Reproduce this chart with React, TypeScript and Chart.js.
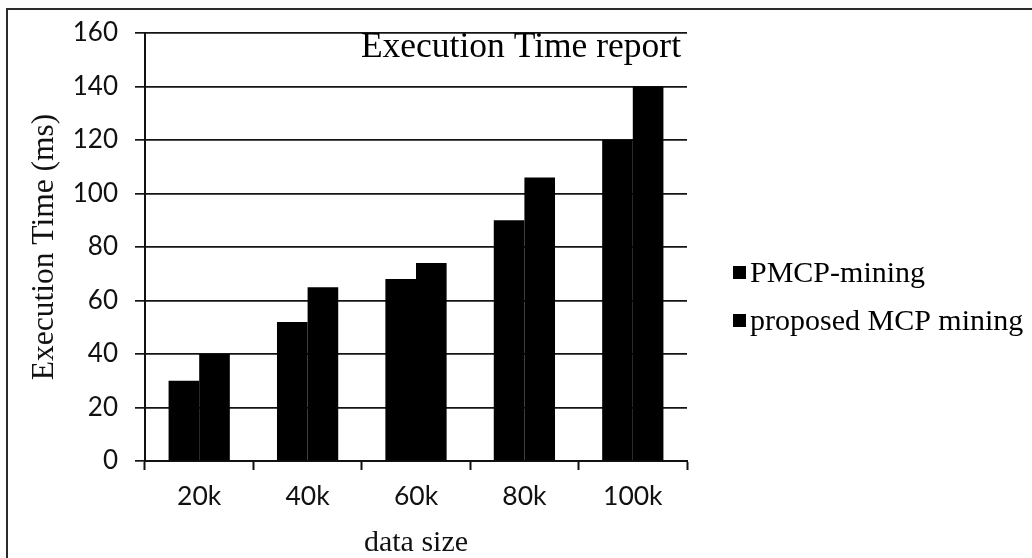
import React, { useEffect, useRef } from "react";
import { Chart, registerables } from "chart.js";

Chart.register(...registerables);

const categories = ["20k", "40k", "60k", "80k", "100k"];
const pmcpMining = [30, 52, 68, 90, 120];
const proposedMcpMining = [40, 65, 74, 106, 140];
const seriesLabels = ["PMCP-mining", "proposed MCP mining"];
const seriesColors = ["#000000", "#000000"];
const yMin = 0;
const yMax = 160;
const yStep = 20;
const chartTitle = "Execution Time report";
const yAxisTitle = "Execution Time (ms)";
const xAxisTitle = "data size";

const SERIF = "'Liberation Serif', 'Times New Roman', serif";
const SANS = "Lato, 'Open Sans', sans-serif";

const overlayPlugin = {
  id: "overlayTitleLegend",
  afterDraw(chart: any) {
    const ctx = chart.ctx as CanvasRenderingContext2D;
    const area = chart.chartArea;
    ctx.save();
    ctx.fillStyle = "#000";
    ctx.font = `35.5px ${SERIF}`;
    ctx.textAlign = "right";
    ctx.textBaseline = "alphabetic";
    ctx.fillText(chartTitle, area.right - 6, area.top + 24);

    ctx.font = `30px ${SERIF}`;
    ctx.textAlign = "left";
    chart.data.datasets.forEach((ds: any, i: number) => {
      const baseY = 282 + i * 48;
      const x = area.right + 46;
      ctx.fillStyle = ds.backgroundColor;
      ctx.fillRect(x, baseY - 16, 13, 13);
      ctx.fillStyle = "#000";
      ctx.fillText(ds.label, x + 17, baseY);
    });
    ctx.restore();
  },
};

export default function App() {
  const canvasRef = useRef<HTMLCanvasElement | null>(null);

  useEffect(() => {
    if (!canvasRef.current) return;
    const chart = new Chart(canvasRef.current, {
      type: "bar",
      data: {
        labels: categories,
        datasets: [
          {
            label: seriesLabels[0],
            data: pmcpMining,
            backgroundColor: seriesColors[0],
            borderWidth: 0,
          },
          {
            label: seriesLabels[1],
            data: proposedMcpMining,
            backgroundColor: seriesColors[1],
            borderWidth: 0,
          },
        ],
      },
      options: {
        responsive: false,
        animation: false,
        devicePixelRatio: 1,
        layout: { padding: { left: 8, top: 33, right: 345, bottom: 0 } },
        plugins: {
          legend: { display: false },
          title: { display: false },
          tooltip: { enabled: false },
        },
        datasets: {
          bar: { categoryPercentage: 0.565, barPercentage: 1.0 },
        },
        scales: {
          x: {
            offset: true,
            grid: {
              display: true,
              drawOnChartArea: false,
              drawTicks: true,
              tickLength: 9,
              tickWidth: 2,
              tickColor: "#111",
              offset: true,
            },
            border: { display: true, color: "#111", width: 2 },
            ticks: {
              color: "#111",
              font: { family: SANS, size: 26.5 },
              padding: 11,
            },
            title: {
              display: true,
              text: xAxisTitle,
              color: "#111",
              font: { family: SERIF, size: 30, lineHeight: 1 },
              padding: { top: 0, bottom: 0 },
            },
            afterFit(scale: any) {
              scale.height = 97;
            },
          },
          y: {
            min: yMin,
            max: yMax,
            grid: {
              color: "#141414",
              lineWidth: 1.7,
              drawTicks: true,
              tickLength: 10,
              tickColor: "#141414",
            },
            border: { display: true, color: "#111", width: 2 },
            ticks: {
              stepSize: yStep,
              color: "#111",
              font: { family: SANS, size: 26 },
              padding: 17,
            },
            title: {
              display: true,
              text: yAxisTitle,
              color: "#111",
              font: { family: SERIF, size: 31.5, lineHeight: 1.2 },
              padding: { top: 18, bottom: 0 },
            },
            afterFit(scale: any) {
              scale.width = 137;
            },
          },
        },
      },
      plugins: [overlayPlugin],
    });
    return () => chart.destroy();
  }, []);

  return (
    <div
      style={{
        position: "fixed",
        left: 0,
        top: 0,
        width: 1032,
        height: 558,
        overflow: "hidden",
        background: "#fdfdfd",
      }}
    >
      <div
        style={{
          position: "absolute",
          left: 6,
          top: 8,
          width: 1100,
          height: 600,
          border: "2px solid #2a2a2a",
          background: "#ffffff",
        }}
      />
      <canvas
        ref={canvasRef}
        width={1032}
        height={558}
        style={{ position: "absolute", left: 0, top: 0, width: 1032, height: 558 }}
      />
    </div>
  );
}
